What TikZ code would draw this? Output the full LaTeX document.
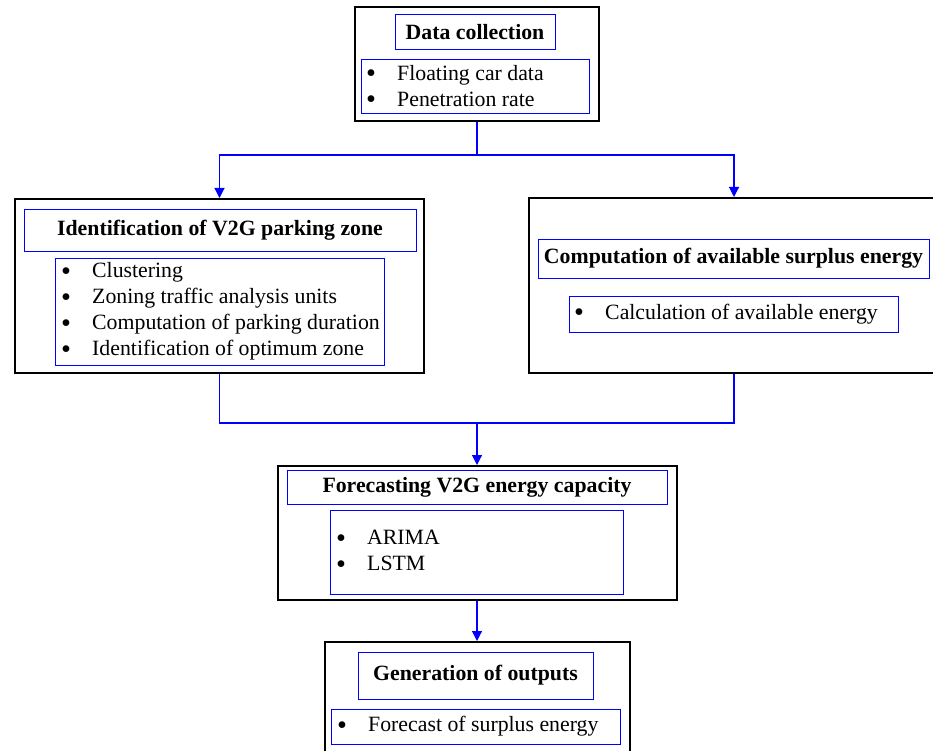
\documentclass[tikz,border=0pt]{standalone}
\usepackage{graphicx}
\usepackage{fontspec}
\setmainfont{Liberation Serif}
\usetikzlibrary{arrows.meta}
\newcommand{\bul}{\makebox[31pt][l]{\raisebox{-2.5pt}{\scalebox{1.3}{\textbullet}}}}

\begin{document}
\fontsize{21.8}{26}\selectfont
\begin{tikzpicture}[x=1pt,y=-1pt,
    stage/.style={draw=black, line width=2pt, inner sep=0pt},
    title/.style={draw=blue, line width=1pt, inner sep=0pt, font=\bfseries},
    list/.style={draw=blue, line width=1pt, inner sep=0pt},
    items/.style={inner sep=0pt, anchor=west, align=left},
    link/.style={draw=blue, line width=1.2pt},
    tip/.style={link, -{Triangle[length=10pt,width=10pt]}}]
        \useasboundingbox (0,0) rectangle (933,751);
        \clip (0,0) rectangle (933,751);
        % data collection
        \node[stage, minimum width=244pt, minimum height=114pt] (collect) at (477,64) {};
        \node[title, minimum width=160pt, minimum height=35pt] (collecttitle) at (475,32.5) {Data collection};
        \node[list, minimum width=228pt, minimum height=54pt] (collectlist) at (475,87) {};
        \node[items] (collectitems) at (366,87) {\bul Floating car data\\ \bul Penetration rate};
        % parking zone
        \node[stage, minimum width=409pt, minimum height=174pt] (zone) at (219.5,286) {};
        \node[title, minimum width=392pt, minimum height=41pt] (zonetitle) at (220,230.5) {Identification of V2G parking zone};
        \node[list, minimum width=329pt, minimum height=107pt] (zonelist) at (219.5,311.5) {};
        \node[items] (zoneitems) at (61,311.5) {\bul Clustering\\ \bul Zoning traffic analysis units\\
            \bul Computation of parking duration\\ \bul Identification of optimum zone};
        % surplus energy
        \node[stage, minimum width=410pt, minimum height=175pt] (surplus) at (734,285.5) {};
        \node[title, minimum width=391pt, minimum height=39pt] (surplustitle) at (733.5,258.5) {Computation of available surplus energy};
        \node[list, minimum width=329pt, minimum height=36pt] (surpluslist) at (733.5,314) {};
        \node[items] (surplusitems) at (574,314) {\bul Calculation of available energy};
        % forecasting
        \node[stage, minimum width=399pt, minimum height=134pt] (forecast) at (477,533) {};
        \node[title, minimum width=380pt, minimum height=34pt] (forecasttitle) at (477,487) {Forecasting V2G energy capacity};
        \node[list, minimum width=293pt, minimum height=84pt] (forecastlist) at (476.5,552) {};
        \node[items] (forecastitems) at (336,552) {\bul ARIMA\\ \bul LSTM};
        % outputs
        \node[stage, minimum width=305pt, minimum height=118pt] (output) at (477,701) {};
        \node[title, minimum width=235pt, minimum height=47pt] (outputtitle) at (475.5,675.5) {Generation of outputs};
        \node[list, minimum width=289pt, minimum height=35pt] (outputlist) at (475.5,726.5) {};
        \node[items] (outputitems) at (337,726.5) {\bul Forecast of surplus energy};
        % connectors
        \coordinate (split) at (477,155);
        \coordinate (merge) at (477,423);
        \draw[link] (collect.south) -- (split);
        \draw[tip] (split) -| (zone.north);
        \draw[tip] (split) -| (surplus.north);
        \draw[link] (zone.south) |- (merge) -| (surplus.south);
        \draw[tip] (merge) -- (forecast.north);
        \draw[tip] (forecast.south) -- (output.north);
    \end{tikzpicture}
\end{document}
